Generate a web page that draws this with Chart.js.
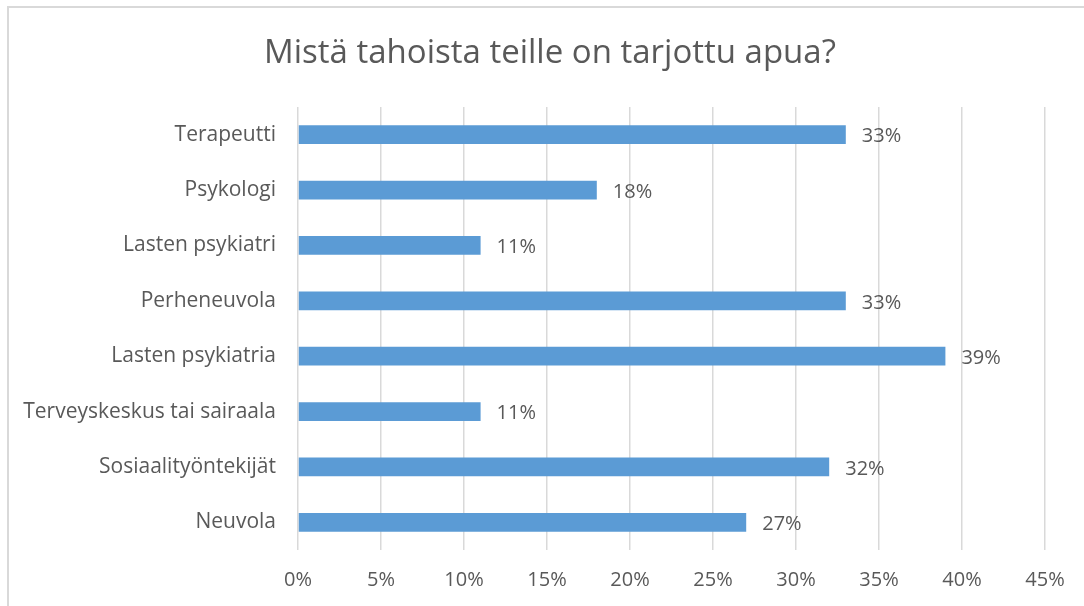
<!DOCTYPE html>
<html>
<head>
<meta charset="utf-8">
<script src="https://cdn.jsdelivr.net/npm/chart.js@4/dist/chart.umd.min.js"></script>
<style>
  html, body { margin: 0; padding: 0; background: #fff; overflow: hidden; }
  #frame { position: absolute; left: 7px; top: 6px; width: 1100px; height: 640px; border: 2px solid #d9d9d9; box-sizing: border-box; }
  #wrap { position: absolute; left: 0; top: 0; width: 1084px; height: 606px; }
</style>
</head>
<body>
<div id="frame"></div>
<div id="wrap"><canvas id="c" width="1084" height="606"></canvas></div>
<script>
const titleText = "Mistä tahoista teille on tarjottu apua?";
const categories = ["Terapeutti", "Psykologi", "Lasten psykiatri", "Perheneuvola", "Lasten psykiatria", "Terveyskeskus tai sairaala", "Sosiaalityöntekijät", "Neuvola"];
const values = [33, 18, 11, 33, 39, 11, 32, 27];
const xTicks = [0, 5, 10, 15, 20, 25, 30, 35, 40, 45];

const FONT = "'Open Sans', 'Liberation Sans', sans-serif";
const TEXT = "#595959";

const labelPlugin = {
  id: 'barLabels',
  afterDatasetsDraw(chart) {
    const ctx = chart.ctx;
    const meta = chart.getDatasetMeta(0);
    ctx.save();
    ctx.font = "20px " + FONT;
    ctx.fillStyle = TEXT;
    ctx.textAlign = 'left';
    ctx.textBaseline = 'middle';
    meta.data.forEach((bar, i) => {
      ctx.fillText(values[i] + "%", bar.x + 16, bar.y + 2);
    });
    ctx.restore();
  }
};

const titlePlugin = {
  id: 'centeredTitle',
  afterDraw(chart) {
    const ctx = chart.ctx;
    ctx.save();
    ctx.font = "33px " + FONT;
    ctx.fillStyle = TEXT;
    ctx.textAlign = 'center';
    ctx.textBaseline = 'alphabetic';
    ctx.fillText(titleText, 550, 63);
    ctx.restore();
  }
};

new Chart(document.getElementById('c'), {
  type: 'bar',
  data: {
    labels: categories,
    datasets: [{
      data: values,
      backgroundColor: '#5b9bd5',
      borderWidth: 0,
      categoryPercentage: 1,
      barPercentage: 0.34
    }]
  },
  options: {
    indexAxis: 'y',
    responsive: false,
    animation: false,
    devicePixelRatio: 1,
    layout: { padding: { left: 0, right: 39, top: 107, bottom: 0 } },
    plugins: {
      legend: { display: false },
      tooltip: { enabled: false },
      title: { display: false }
    },
    scales: {
      x: {
        min: 0,
        max: 45,
        afterBuildTicks(scale) { scale.ticks = xTicks.map(v => ({ value: v })); },
        afterFit(scale) { scale.height = 56; },
        ticks: {
          color: TEXT,
          font: { family: FONT, size: 20 },
          padding: 18,
          callback: v => v + "%"
        },
        grid: { color: '#d9d9d9', lineWidth: 1.5, drawTicks: false },
        border: { display: false }
      },
      y: {
        afterFit(scale) { scale.width = 298; },
        ticks: {
          color: TEXT,
          font: { family: FONT, size: 21 },
          padding: 14
        },
        grid: { display: false },
        border: { display: false }
      }
    }
  },
  plugins: [labelPlugin, titlePlugin]
});
</script>
</body>
</html>
